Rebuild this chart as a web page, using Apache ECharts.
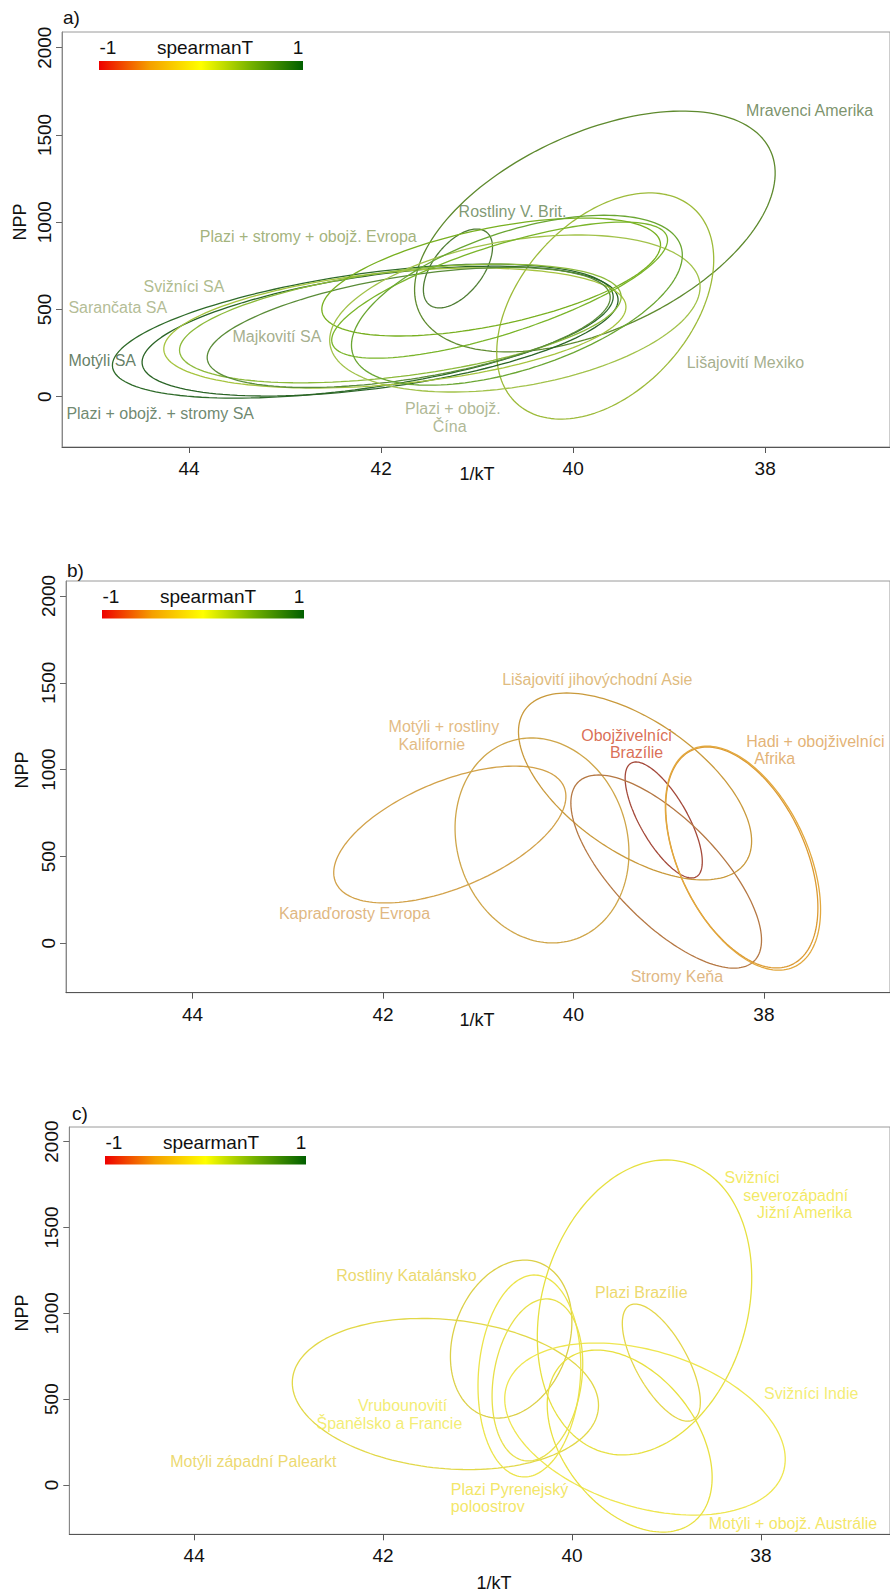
<!DOCTYPE html>
<html><head><meta charset="utf-8">
<script src="https://cdn.jsdelivr.net/npm/echarts@6/dist/echarts.min.js"></script>
<style>html,body{margin:0;padding:0;background:#fff}#c{width:890px;height:1592px}</style>
</head><body><div id="c"></div>
<script>
const xTicks = [38, 40, 42, 44];
const yTicks = [0, 500, 1000, 1500, 2000];
const panelLetters = ['a)', 'b)', 'c)'];
const legendTexts = ['-1', 'spearmanT', '1'];

// ellipse: name, centre x, centre y, spread x, spread y, correlation, colour
const ellipsesA = [
  ['Mravenci Amerika', 39.774, 947, 1.878, 690, -0.485, '#5e8a2e'],
  ['Rostliny V. Brit.', 41.2, 735, 0.36, 226, -0.54, '#4f7d34'],
  ['Lišajovití Mexiko', 39.666, 520, 1.13, 648, -0.41, '#9dbb3a'],
  ['Plazi + obojž. + stromy SA', 42.191, 376, 2.608, 384, -0.51, '#2f6b2a'],
  ['Motýli SA', 42.011, 376, 2.479, 372, -0.48, '#2a6426'],
  ['Sarančata SA', 41.857, 394, 2.407, 344, -0.35, '#a6c43e'],
  ['Svižníci SA', 41.8, 420, 2.3, 340, -0.45, '#8cba3a'],
  ['Majkovití SA', 41.713, 397, 2.099, 344, -0.5, '#5a8c38'],
  ['Plazi + stromy + obojž. Evropa', 40.854, 686, 1.764, 338, -0.545, '#78b020'],
  ['Plazi + obojž. Čína', 40.607, 477, 1.929, 450, -0.34, '#a2c24a'],
  ['ellipse a11', 40.766, 611, 1.749, 390, -0.735, '#7ab52a'],
  ['ellipse a12', 40.586, 553, 1.723, 487, -0.53, '#6aa632']
];
const ellipsesB = [
  ['Kapraďorosty Evropa', 41.298, 626, 1.219, 394, -0.557, '#d2a24a'],
  ['Motýli + rostliny Kalifornie', 40.33, 592, 0.913, 590, 0.12, '#cfa64a'],
  ['Lišajovití jihovýchodní Asie', 39.353, 903, 1.224, 538, 0.585, '#c99a3c'],
  ['Obojživelníci Brazílie', 39.052, 710, 0.405, 334, 0.72, '#a4493a'],
  ['Stromy Keňa', 39.026, 413, 1.001, 556, 0.71, '#b57844'],
  ['Hadi + obojživelníci Afrika', 38.232, 494, 0.799, 636, 0.455, '#dc9a32'],
  ['Hadi + obojživelníci Afrika 2', 38.22, 490, 0.815, 645, 0.46, '#e2a83e']
];
const ellipsesC = [
  ['Svižníci severozápadní Jižní Amerika', 39.232, 1034, 1.135, 859, -0.2, '#e6e040'],
  ['Plazi Brazílie', 39.054, 713, 0.413, 341, 0.67, '#e4d64a'],
  ['Motýli západní Palearkt', 41.34, 530, 1.621, 440, 0.15, '#e2d848'],
  ['Rostliny Katalánsko', 40.644, 850, 0.643, 460, -0.22, '#dcd048'],
  ['Svižníci Indie', 39.227, 326, 1.485, 501, 0.35, '#eee650'],
  ['Motýli + obojž. Austrálie', 39.389, 256, 0.873, 530, 0.4, '#e8e040'],
  ['Plazi Pyrenejský poloostrov', 40.451, 635, 0.544, 588, -0.1, '#ece44a'],
  ['Vrubounovití Španělsko a Francie', 40.366, 612, 0.48, 472, -0.2, '#e8e04a']
];

// label line: text, x, y, colour
const labelsA = [
  ['Mravenci Amerika', 38.194, 1637, '#5a7846'],
  ['Rostliny V. Brit.', 41.188, 1058, '#5f7f4f'],
  ['Plazi + stromy + obojž. Evropa', 43.884, 915, '#8ca05a'],
  ['Svižníci SA', 44.470, 629, '#9aaa70'],
  ['Sarančata SA', 45.252, 508, '#a0ab7a'],
  ['Majkovití SA', 43.544, 342, '#8e9a70'],
  ['Motýli SA', 45.252, 205, '#3d5e3d'],
  ['Plazi + obojž. + stromy SA', 45.273, -99, '#4a6a4a'],
  ['Plazi + obojž.', 41.745, -70, '#9aa67a'],
  ['Čína', 41.457, -174, '#9aa67a'],
  ['Lišajovití Mexiko', 38.812, 193, '#8e9a70']
];
const labelsB = [
  ['Lišajovití jihovýchodní Asie', 40.743, 1516, '#d7aa5c'],
  ['Motýli + rostliny', 41.936, 1245, '#dcaa64'],
  ['Kalifornie', 41.832, 1142, '#dcaa64'],
  ['Obojživelníci', 39.913, 1193, '#d04a2a'],
  ['Brazílie', 39.612, 1096, '#d04a2a'],
  ['Hadi + obojživelníci', 38.18, 1159, '#dca052'],
  ['Afrika', 38.097, 1061, '#dca052'],
  ['Kapraďorosty Evropa', 43.087, 168, '#d7a55f'],
  ['Stromy Keňa', 39.394, -194, '#d7a564']
];
const labelsC = [
  ['Svižníci', 38.380, 1788, '#efe43c'],
  ['severozápadní', 38.181, 1683, '#efe43c'],
  ['Jižní Amerika', 38.035, 1584, '#efe43c'],
  ['Rostliny Katalánsko', 42.491, 1217, '#e6cf48'],
  ['Plazi Brazílie', 39.750, 1118, '#e8d048'],
  ['Vrubounovití', 42.260, 460, '#f0e850'],
  ['Španělsko a Francie', 42.700, 355, '#f0e850'],
  ['Motýli západní Palearkt', 44.248, 134, '#e8cf4a'],
  ['Svižníci Indie', 37.961, 530, '#f0e850'],
  ['Plazi Pyrenejský', 41.277, -29, '#f0e040'],
  ['poloostrov', 41.277, -128, '#f0e040'],
  ['Motýli + obojž. Austrálie', 38.547, -227, '#f0e040']
];

const FONT = '"Liberation Sans", Arial, Helvetica, sans-serif';
const layout = [
  {left: 62, top: 32, width: 838, height: 415, xmin: 36.7, xmax: 45.324, ymin: -288, ymax: 2090,
   letter: [63, 19], npp: [20, 222], kt: [477, 474], bar: [99, 61, 204, 9]},
  {left: 66, top: 581, width: 834, height: 411.7, xmin: 36.676, xmax: 45.328, ymin: -284.6, ymax: 2086,
   letter: [67, 572], npp: [22, 770], kt: [477, 1020], bar: [102, 610, 202, 8.5]},
  {left: 69.3, top: 1127, width: 830.7, height: 407.3, xmin: 36.633, xmax: 45.322, ymin: -287, ymax: 2085,
   letter: [72, 1115], npp: [22, 1313], kt: [494, 1583], bar: [105, 1156, 201, 8.5]}
];

function ellipsePoints(cx, cy, sx, sy, r) {
  const d = Math.acos(r), pts = [];
  for (let i = 0; i <= 160; i++) {
    const t = 2 * Math.PI * i / 160;
    pts.push([cx + sx * Math.cos(t + d / 2), cy + sy * Math.cos(t - d / 2)]);
  }
  return pts;
}

const chart = echarts.init(document.getElementById('c'), null, {renderer: 'svg'});
const grids = [], xAxes = [], yAxes = [], series = [], graphics = [];
const allEll = [ellipsesA, ellipsesB, ellipsesC];
const allLab = [labelsA, labelsB, labelsC];

layout.forEach((L, i) => {
  grids.push({left: L.left, top: L.top, width: L.width, height: L.height, show: true,
    borderColor: '#9a9a9a', borderWidth: 1, backgroundColor: 'transparent'});
  xAxes.push({type: 'value', gridIndex: i, inverse: true, min: L.xmin, max: L.xmax,
    splitLine: {show: false},
    axisLine: {show: true, onZero: false, lineStyle: {color: '#555', width: 1}},
    axisTick: {show: true, length: 6, customValues: xTicks, lineStyle: {color: '#555'}},
    axisLabel: {customValues: xTicks, fontSize: 19, color: '#111', fontFamily: FONT, margin: 12,
      formatter: v => String(v)}});
  yAxes.push({type: 'value', gridIndex: i, min: L.ymin, max: L.ymax,
    splitLine: {show: false},
    axisLine: {show: true, onZero: false, lineStyle: {color: '#888', width: 1}},
    axisTick: {show: true, length: 6, customValues: yTicks, lineStyle: {color: '#666'}},
    axisLabel: {customValues: yTicks, rotate: 90, fontSize: 19, color: '#111', fontFamily: FONT, margin: 8,
      formatter: v => String(v)}});
  allEll[i].forEach(e => {
    series.push({type: 'line', name: e[0], xAxisIndex: i, yAxisIndex: i, data: ellipsePoints(e[1], e[2], e[3], e[4], e[5]),
      showSymbol: false, symbol: 'none', silent: true, animation: false, clip: true,
      lineStyle: {color: e[6], width: 1.3}});
  });
  series.push({type: 'scatter', xAxisIndex: i, yAxisIndex: i, symbolSize: 1, silent: true, animation: false,
    itemStyle: {color: 'rgba(0,0,0,0)'}, z: 5,
    data: allLab[i].map(l => ({value: [l[1], l[2]], label: {formatter: l[0], color: l[3]}})),
    label: {show: true, position: [0, 0], align: 'left', verticalAlign: 'middle', fontSize: 16, fontFamily: FONT}});
  graphics.push({type: 'text', left: L.letter[0], top: L.letter[1] - 11,
    style: {text: panelLetters[i], fontSize: 19, fontFamily: FONT, fill: '#111'}});
  graphics.push({type: 'text', x: L.npp[0], y: L.npp[1], rotation: Math.PI / 2,
    style: {text: 'NPP', fontSize: 18, fontFamily: FONT, fill: '#111', align: 'center', verticalAlign: 'middle'}});
  graphics.push({type: 'text', x: L.kt[0], y: L.kt[1],
    style: {text: '1/kT', fontSize: 18, fontFamily: FONT, fill: '#111', align: 'center', verticalAlign: 'middle'}});
  const b = L.bar;
  graphics.push({type: 'rect', shape: {x: b[0], y: b[1], width: b[2], height: b[3]},
    style: {fill: new echarts.graphic.LinearGradient(0, 0, 1, 0, [
      {offset: 0, color: '#ee0000'}, {offset: 0.25, color: '#f5a000'}, {offset: 0.5, color: '#ffff00'},
      {offset: 0.75, color: '#72b000'}, {offset: 1, color: '#005f00'}])}});
  graphics.push({type: 'text', x: b[0] + 9, y: b[1] - 4,
    style: {text: legendTexts[0], fontSize: 19, fontFamily: FONT, fill: '#111', align: 'center', verticalAlign: 'bottom'}});
  graphics.push({type: 'text', x: b[0] + 106, y: b[1] - 4,
    style: {text: legendTexts[1], fontSize: 19, fontFamily: FONT, fill: '#111', align: 'center', verticalAlign: 'bottom'}});
  graphics.push({type: 'text', x: b[0] + b[2] - 5, y: b[1] - 4,
    style: {text: legendTexts[2], fontSize: 19, fontFamily: FONT, fill: '#111', align: 'center', verticalAlign: 'bottom'}});
});

chart.setOption({backgroundColor: '#fff', animation: false, grid: grids, xAxis: xAxes, yAxis: yAxes,
  series: series, graphic: graphics});
</script></body></html>
